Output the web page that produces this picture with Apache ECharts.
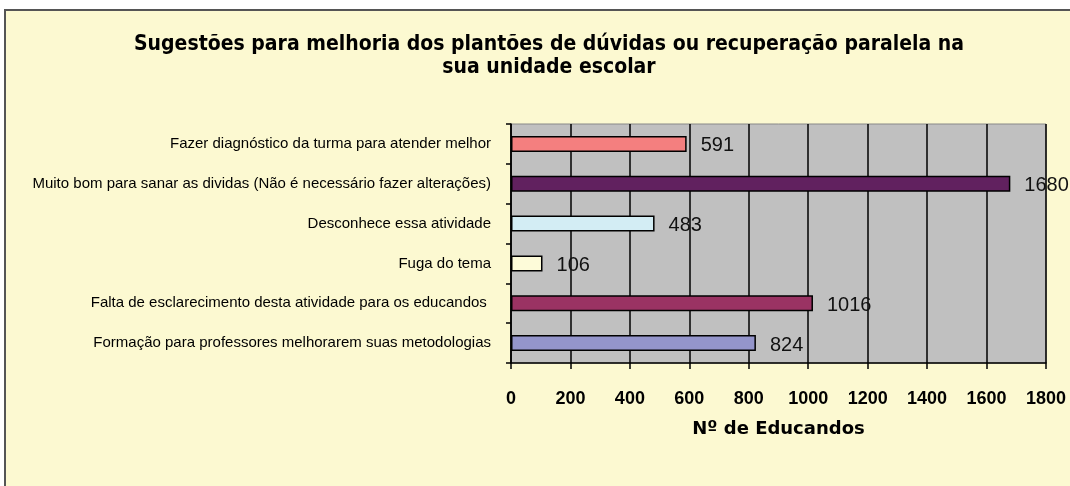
<!DOCTYPE html>
<html>
<head>
<meta charset="utf-8">
<style>
    html, body { margin: 0; padding: 0; background: #fff; }
    #chart { width: 1070px; height: 486px; }
</style>
<script src="https://cdn.jsdelivr.net/npm/echarts@6/dist/echarts.min.js"></script>
</head>
<body>
<div id="chart"></div>
<script>
// categorias (de cima para baixo)
const categorias = [
    'Fazer diagnóstico da turma para atender melhor',
    'Muito bom para sanar as dividas (Não é necessário fazer alterações)',
    'Desconhece essa atividade',
    'Fuga do tema',
    'Falta de esclarecimento desta atividade para os educandos ',
    'Formação para professores melhorarem suas metodologias'
]
const valores = [591, 1680, 483, 106, 1016, 824]
const cores = ['#F47F7F', '#61215F', '#D3EDF4', '#FDFBD9', '#9A3363', '#9495CB']
const ticksX = [0, 200, 400, 600, 800, 1000, 1200, 1400, 1600, 1800]

let mychart = echarts.init(document.getElementById('chart'))
mychart.setOption({
    animation: false,
    backgroundColor: '#fff',
    //moldura amarela
    graphic: [{
        type: 'rect',
        shape: { x: 5, y: 10, width: 1100, height: 500 },
        style: { fill: '#FCF9D1', stroke: '#555', lineWidth: 2 },
        z: -10
    }],
    title: {
        text: 'Sugestões para melhoria dos plantões de dúvidas ou recuperação paralela na\nsua unidade escolar',
        left: 544,
        top: 28,
        textAlign: 'center',
        textStyle: {
            fontFamily: '"Liberation Sans Narrow", "DejaVu Sans Condensed", "Liberation Sans"',
            fontWeight: 'bold',
            fontSize: 21,
            lineHeight: 23,
            color: '#000'
        }
    },
    grid: {
        left: 511,
        top: 124,
        right: 24,
        bottom: 123,
        show: true,
        backgroundColor: '#C0C0C0',
        borderColor: '#888',
        borderWidth: 1
    },
    xAxis: {
        type: 'value',
        min: 0,
        max: 1800,
        interval: 200,
        name: 'Nº de Educandos',
        nameLocation: 'middle',
        nameGap: 57,
        nameTextStyle: {
            fontFamily: '"DejaVu Sans", "Liberation Sans"',
            fontWeight: 'bold',
            fontSize: 18,
            color: '#000'
        },
        axisLine: { show: true, lineStyle: { color: '#000', width: 1.5 } },
        axisTick: { show: true, length: 6, lineStyle: { color: '#000', width: 1.5 } },
        axisLabel: {
            margin: 27,
            fontFamily: '"Liberation Sans", Arial',
            fontWeight: 'bold',
            fontSize: 18,
            color: '#000',
            formatter: v => ticksX.includes(v) ? String(v) : ''
        },
        splitLine: { show: true, lineStyle: { color: '#000', width: 1.5 } }
    },
    yAxis: {
        type: 'category',
        inverse: true,
        data: categorias,
        axisLine: { show: true, lineStyle: { color: '#000', width: 1.5 } },
        axisTick: { show: true, length: 5, lineStyle: { color: '#000', width: 1.5 } },
        axisLabel: {
            margin: 20,
            fontFamily: '"Liberation Sans", Arial',
            fontSize: 15,
            color: '#000'
        }
    },
    series: [{
        type: 'bar',
        barWidth: 16,
        data: valores.map((v, i) => ({
            value: v,
            itemStyle: { color: cores[i] }
        })),
        itemStyle: { borderColor: '#000', borderWidth: 1.5 },
        label: {
            show: true,
            position: 'right',
            distance: 14,
            offset: [0, 2],
            fontFamily: '"Liberation Sans", Arial',
            fontSize: 20,
            color: '#111'
        }
    }]
})
</script>
</body>
</html>
